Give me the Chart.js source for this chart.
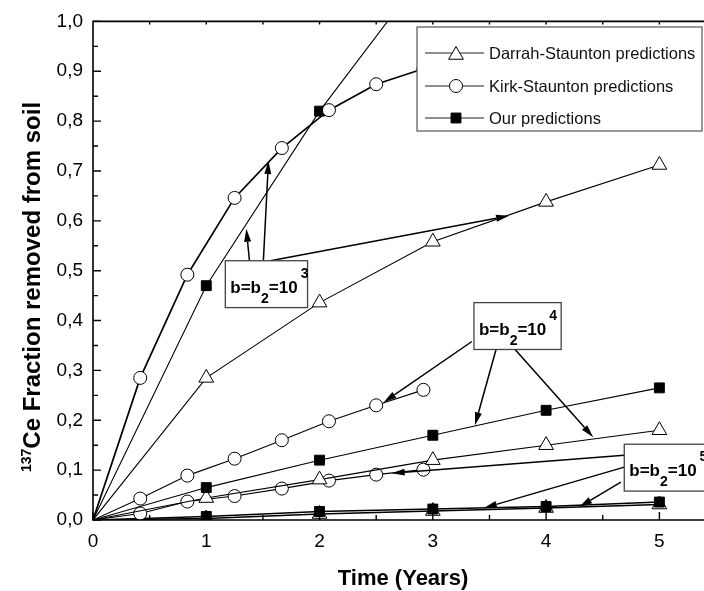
<!DOCTYPE html>
<html>
<head>
<meta charset="utf-8">
<script src="https://cdn.jsdelivr.net/npm/chart.js@4.4.1/dist/chart.umd.min.js"></script>
<style>
  html, body { margin: 0; padding: 0; background: #fff; }
  canvas { display: block; }
</style>
</head>
<body>
<canvas id="chart" width="704" height="591"></canvas>
<script>
// times (years)
const kirkTimes = [0, 0.417, 0.833, 1.25, 1.667, 2.083, 2.5, 2.917];
const yearTimes = [0, 1, 2, 3, 4, 5];
const ourTimes3 = [0, 1, 2, 3];

// b = b2 = 10^3
const our3 = [0, 0.47, 0.82, 1.12];
const kirk3 = [0, 0.285, 0.492, 0.646, 0.746, 0.822, 0.874, 0.905];
const darrah3 = [0, 0.285, 0.436, 0.558, 0.638, 0.712];
// b = b2 = 10^4
const kirk4 = [0, 0.043, 0.089, 0.123, 0.16, 0.198, 0.23, 0.261];
const our4 = [0, 0.065, 0.12, 0.17, 0.22, 0.265];
const darrah4 = [0, 0.044, 0.081, 0.12, 0.15, 0.18];
// b = b2 = 10^5
const kirk5 = [0, 0.013, 0.037, 0.048, 0.063, 0.079, 0.091, 0.101];
const our5 = [0, 0.007, 0.017, 0.022, 0.027, 0.036];
const darrah5 = [0, 0.003, 0.012, 0.018, 0.024, 0.031];

const legendLabels = ['Darrah-Staunton predictions', 'Kirk-Staunton predictions', 'Our predictions'];

// annotation boxes and arrows, in data units (x0,y0 top-left / x1,y1 bottom-right)
const noteBoxes = [
  { exp: '3', x0: 1.168, y0: 0.52, x1: 1.894, y1: 0.426 },
  { exp: '4', x0: 3.363, y0: 0.436, x1: 4.133, y1: 0.342 },
  { exp: '5', x0: 4.69, y0: 0.152, x1: 5.45, y1: 0.058 }
];
const noteArrows = [
  [1.381, 0.52, 1.354, 0.584],
  [1.504, 0.52, 1.549, 0.72],
  [1.566, 0.52, 3.673, 0.61],
  [3.345, 0.358, 2.566, 0.236],
  [3.558, 0.342, 3.372, 0.19],
  [3.726, 0.342, 4.416, 0.166],
  [4.69, 0.13, 2.637, 0.094],
  [4.69, 0.106, 3.451, 0.024],
  [4.66, 0.076, 4.292, 0.026]
];

const FONT = "'Liberation Sans', Arial, sans-serif";
const pts = (xs, ys) => xs.map((x, i) => ({ x, y: ys[i] }));

const STYLE = {
  circle: { pointStyle: 'circle', r: 6.5 },
  triangle: { pointStyle: 'triangle', r: 8.5 },
  rect: { pointStyle: 'rect', r: 7 }
};

function series(label, xs, ys, kind, width) {
  const st = STYLE[kind];
  return {
    label,
    data: pts(xs, ys),
    borderColor: '#000',
    borderWidth: width || 1.1,
    pointStyle: st.pointStyle,
    pointRadius: (c) => (c.raw && c.raw.x === 0 ? 0 : st.r),
    pointBackgroundColor: kind === 'rect' ? '#000' : '#fff',
    pointBorderColor: '#000',
    pointBorderWidth: 1,
    tension: 0
  };
}

function drawMarker(ctx, kind, x, y) {
  ctx.save();
  ctx.lineWidth = 1;
  ctx.strokeStyle = '#000';
  ctx.fillStyle = kind === 'rect' ? '#000' : '#fff';
  ctx.beginPath();
  if (kind === 'circle') {
    ctx.arc(x, y, STYLE.circle.r, 0, Math.PI * 2);
  } else if (kind === 'triangle') {
    const r = STYLE.triangle.r;
    ctx.moveTo(x, y - r);
    ctx.lineTo(x + r * Math.sin(2 * Math.PI / 3), y - r * Math.cos(2 * Math.PI / 3));
    ctx.lineTo(x + r * Math.sin(4 * Math.PI / 3), y - r * Math.cos(4 * Math.PI / 3));
    ctx.closePath();
  } else {
    const s = STYLE.rect.r * Math.SQRT1_2;
    ctx.rect(x - s, y - s, 2 * s, 2 * s);
  }
  ctx.fill();
  ctx.stroke();
  ctx.restore();
}

const decorations = {
  id: 'decorations',
  afterDraw(chart) {
    const { ctx, chartArea: a, scales: { x, y } } = chart;
    const edge = chart.width;
    ctx.save();

    // frame (right side is cut off in the original)
    ctx.strokeStyle = '#000';
    ctx.lineWidth = 1.6;
    ctx.beginPath();
    ctx.moveTo(edge, a.top);
    ctx.lineTo(a.left, a.top);
    ctx.lineTo(a.left, a.bottom);
    ctx.lineTo(edge, a.bottom);
    ctx.stroke();

    // inward ticks
    ctx.lineWidth = 1.4;
    ctx.beginPath();
    for (let i = 0; i <= 20; i++) {
      const py = y.getPixelForValue(i * 0.05);
      const len = i % 2 === 0 ? 8 : 5;
      ctx.moveTo(a.left, py);
      ctx.lineTo(a.left + len, py);
    }
    for (let i = 0; x.getPixelForValue(i * 0.5) <= edge; i++) {
      const px = x.getPixelForValue(i * 0.5);
      const len = i % 2 === 0 ? 8 : 5;
      ctx.moveTo(px, a.bottom);
      ctx.lineTo(px, a.bottom - len);
      if (i > 0) {
        ctx.moveTo(px, a.top);
        ctx.lineTo(px, a.top + 3);
      }
    }
    ctx.stroke();

    // arrows
    ctx.fillStyle = '#000';
    ctx.lineWidth = 1.5;
    noteArrows.forEach(([x0, y0, x1, y1]) => {
      const sx = x.getPixelForValue(x0), sy = y.getPixelForValue(y0);
      const ex = x.getPixelForValue(x1), ey = y.getPixelForValue(y1);
      const ang = Math.atan2(ey - sy, ex - sx);
      const hl = 13, hw = 3.5;
      const bx = ex - hl * Math.cos(ang), by = ey - hl * Math.sin(ang);
      ctx.beginPath();
      ctx.moveTo(sx, sy);
      ctx.lineTo(bx, by);
      ctx.stroke();
      ctx.beginPath();
      ctx.moveTo(ex, ey);
      ctx.lineTo(bx + hw * Math.sin(ang), by - hw * Math.cos(ang));
      ctx.lineTo(bx - hw * Math.sin(ang), by + hw * Math.cos(ang));
      ctx.closePath();
      ctx.fill();
    });

    // annotation boxes b=b2=10^n
    noteBoxes.forEach(b => {
      const l = x.getPixelForValue(b.x0), t = y.getPixelForValue(b.y0);
      const r = x.getPixelForValue(b.x1), btm = y.getPixelForValue(b.y1);
      ctx.fillStyle = '#fff';
      ctx.fillRect(l, t, r - l, btm - t);
      ctx.strokeStyle = '#444';
      ctx.lineWidth = 1.3;
      ctx.strokeRect(l, t, r - l, btm - t);
      ctx.fillStyle = '#000';
      ctx.textBaseline = 'alphabetic';
      ctx.textAlign = 'left';
      const base = t + 32;
      let cx = l + 5;
      ctx.font = `bold 17px ${FONT}`;
      ctx.fillText('b=b', cx, base);
      cx += ctx.measureText('b=b').width;
      ctx.font = `bold 14px ${FONT}`;
      ctx.fillText('2', cx, base + 10);
      cx += ctx.measureText('2').width;
      ctx.font = `bold 17px ${FONT}`;
      ctx.fillText('=10', cx, base);
      cx += ctx.measureText('=10').width + 3;
      ctx.font = `bold 14px ${FONT}`;
      ctx.fillText(b.exp, cx, base - 15);
    });

    // legend
    const lg = { left: 417, top: 27, right: 702, bottom: 131 };
    ctx.fillStyle = '#fff';
    ctx.fillRect(lg.left, lg.top, lg.right - lg.left, lg.bottom - lg.top);
    ctx.strokeStyle = '#555';
    ctx.lineWidth = 1.2;
    ctx.strokeRect(lg.left, lg.top, lg.right - lg.left, lg.bottom - lg.top);
    const kinds = ['triangle', 'circle', 'rect'];
    const rows = [53, 86, 118];
    ctx.font = `16.5px ${FONT}`;
    ctx.textBaseline = 'middle';
    ctx.textAlign = 'left';
    kinds.forEach((k, i) => {
      ctx.strokeStyle = '#222';
      ctx.lineWidth = 1.1;
      ctx.beginPath();
      ctx.moveTo(425, rows[i]);
      ctx.lineTo(484, rows[i]);
      ctx.stroke();
      drawMarker(ctx, k, 456, rows[i] + (k === 'triangle' ? 2 : 0));
      ctx.fillStyle = '#111';
      ctx.fillText(legendLabels[i], 489, rows[i] + 1);
    });

    // axis titles
    ctx.fillStyle = '#000';
    ctx.textBaseline = 'alphabetic';
    ctx.textAlign = 'center';
    ctx.font = `bold 22px ${FONT}`;
    ctx.fillText('Time (Years)', 403, 585);

    ctx.save();
    ctx.translate(40, 287);
    ctx.rotate(-Math.PI / 2);
    ctx.textAlign = 'left';
    ctx.font = `bold 14px ${FONT}`;
    const sup = '137';
    const supW = ctx.measureText(sup).width;
    ctx.font = `bold 24px ${FONT}`;
    const main = 'Ce Fraction removed from soil';
    const mainW = ctx.measureText(main).width;
    const start = -(supW + mainW) / 2;
    ctx.font = `bold 14px ${FONT}`;
    ctx.fillText(sup, start, -9);
    ctx.font = `bold 24px ${FONT}`;
    ctx.fillText(main, start + supW, 0);
    ctx.restore();

    ctx.restore();
  }
};

new Chart(document.getElementById('chart'), {
  type: 'line',
  data: {
    datasets: [
      series('Darrah-Staunton 10^3', yearTimes, darrah3, 'triangle'),
      series('Kirk-Staunton 10^3', kirkTimes, kirk3, 'circle', 1.7),
      series('Our 10^3', ourTimes3, our3, 'rect'),
      series('Kirk-Staunton 10^4', kirkTimes, kirk4, 'circle'),
      series('Our 10^4', yearTimes, our4, 'rect'),
      series('Darrah-Staunton 10^4', yearTimes, darrah4, 'triangle'),
      series('Kirk-Staunton 10^5', kirkTimes, kirk5, 'circle'),
      series('Our 10^5', yearTimes, our5, 'rect', 1.4),
      series('Darrah-Staunton 10^5', yearTimes, darrah5, 'triangle', 1.4)
    ]
  },
  options: {
    responsive: false,
    animation: false,
    devicePixelRatio: 1,
    layout: { padding: { top: 19.5, right: 0, left: 0, bottom: 0 } },
    plugins: { legend: { display: false }, tooltip: { enabled: false } },
    scales: {
      x: {
        type: 'linear',
        min: 0,
        max: 5.31,
        border: { display: false },
        grid: { display: false, drawTicks: false },
        ticks: {
          stepSize: 1,
          includeBounds: false,
          autoSkip: false,
          maxRotation: 0,
          padding: 10,
          color: '#000',
          font: { family: FONT, size: 19 },
          callback: (v) => String(v)
        },
        afterFit: (s) => { s.height = 71; }
      },
      y: {
        min: 0,
        max: 1,
        border: { display: false },
        grid: { display: false, drawTicks: false },
        ticks: {
          stepSize: 0.1,
          padding: 10,
          color: '#000',
          font: { family: FONT, size: 19 },
          callback: (v) => v.toFixed(1).replace('.', ',')
        },
        afterFit: (s) => { s.width = 93; }
      }
    }
  },
  plugins: [decorations]
});
</script>
</body>
</html>
